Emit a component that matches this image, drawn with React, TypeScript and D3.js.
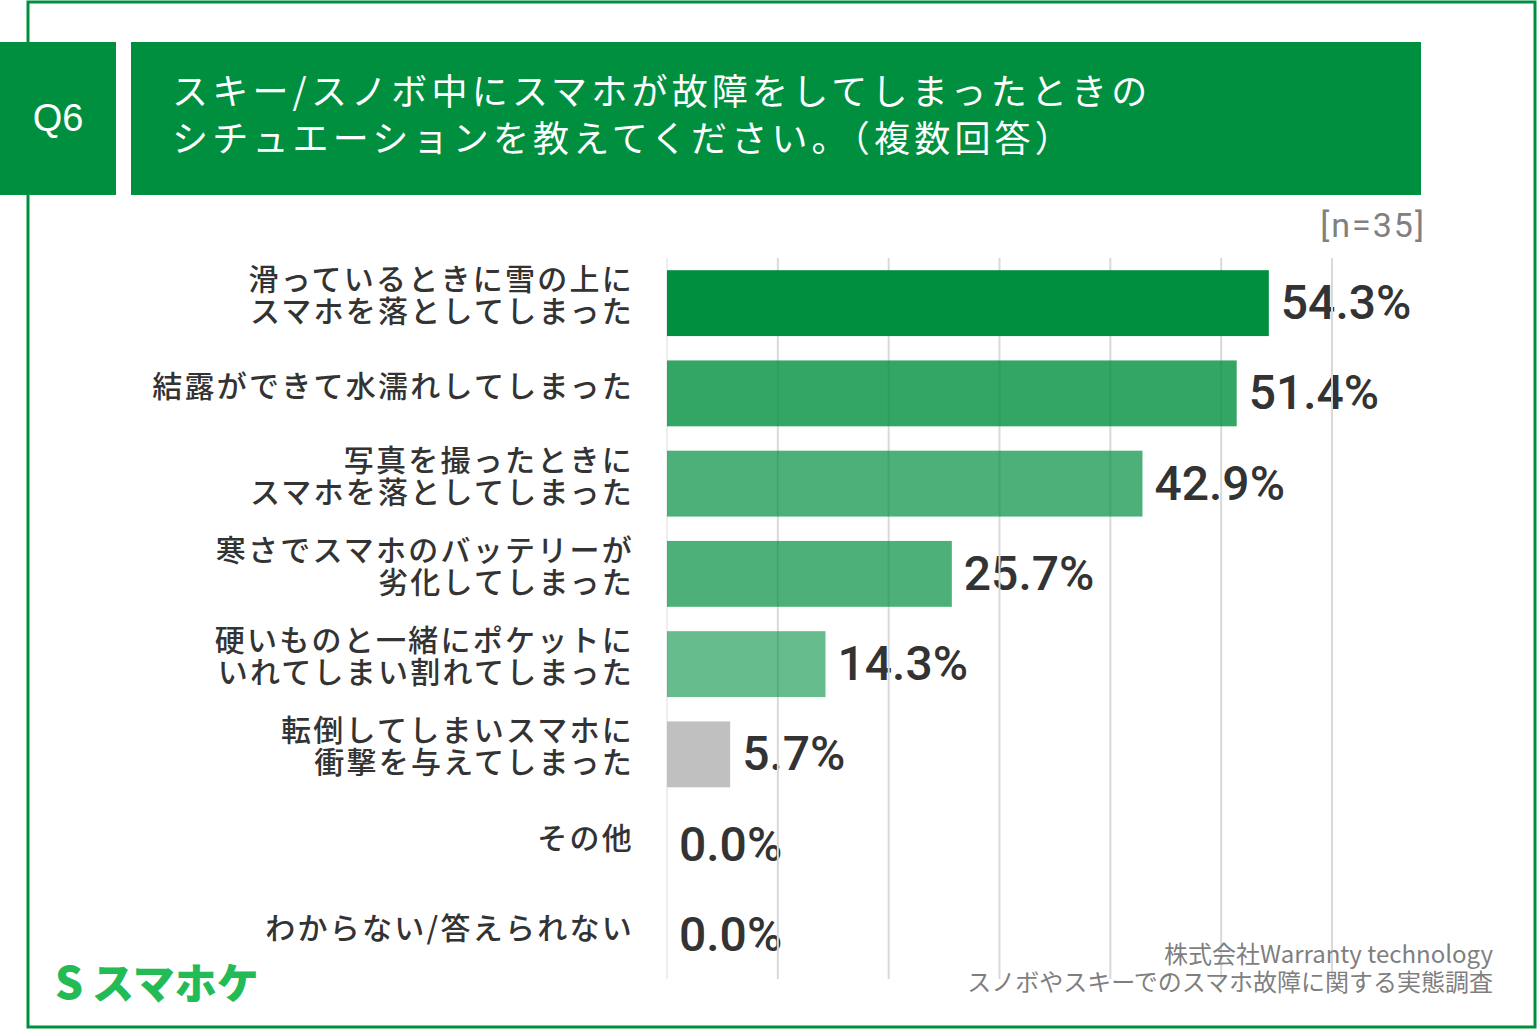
import * as d3 from 'd3';

const categories = [
  ['滑っているときに雪の上に', 'スマホを落としてしまった'],
  ['結露ができて水濡れしてしまった'],
  ['写真を撮ったときに', 'スマホを落としてしまった'],
  ['寒さでスマホのバッテリーが', '劣化してしまった'],
  ['硬いものと一緒にポケットに', 'いれてしまい割れてしまった'],
  ['転倒してしまいスマホに', '衝撃を与えてしまった'],
  ['その他'],
  ['わからない/答えられない'],
];
const values = [54.3, 51.4, 42.9, 25.7, 14.3, 5.7, 0.0, 0.0];
const barOpacity = [1, 0.8, 0.7, 0.7, 0.6, 1, 1, 1];
const gridTicks = [0, 10, 20, 30, 40, 50, 60];
const titleLines = [
  'スキー/スノボ中にスマホが故障をしてしまったときの',
  'シチュエーションを教えてください。（複数回答）',
];
const sourceLines = ['株式会社Warranty technology', 'スノボやスキーでのスマホ故障に関する実態調査'];

const W = 1538;
const H = 1030;
const GREEN = '#008f3f';
const JP = '"Noto Sans CJK JP", "Noto Sans", sans-serif';

export default function App() {
  const x = d3.scaleLinear().domain([0, 60]).range([667, 1332]);
  const keys = categories.map((_, i) => String(i));
  const y = d3.scaleBand().domain(keys).range([258, 980]).paddingInner(0.27).paddingOuter(0.135);

  return (
    <svg width={W} height={H} style={{ position: 'absolute', left: 0, top: 0, background: '#fff' }}>
      {/* outer frame */}
      <rect x={28} y={2} width={1507} height={1025} fill="none" stroke={GREEN} strokeWidth={3} />

      {/* header */}
      <rect x={0} y={42} width={116} height={153} fill={GREEN} />
      <text x={58} y={131} textAnchor="middle" fill="#fff" fontSize={38}
        fontFamily='"Liberation Sans", Arial, sans-serif'>Q6</text>
      <rect x={131} y={42} width={1290} height={153} fill={GREEN} />
      {titleLines.map((t, i) => (
        <text key={t} x={172} y={105 + i * 47} fill="#fff" fontSize={36} letterSpacing={4.2}
          fontFamily={JP} fontWeight={400}>{t}</text>
      ))}

      <text x={1426} y={237} textAnchor="end" fill="#808080" fontSize={34} letterSpacing={2}
        fontFamily='Roboto, "Noto Sans", sans-serif'>[n=35]</text>

      {/* category labels */}
      {categories.map((lines, i) => {
        const c = (y(String(i)) as number) + y.bandwidth() / 2;
        const ys = lines.length === 2 ? [c - 13, c + 19] : [c + 4];
        return lines.map((t, j) => (
          <text key={`${i}-${j}`} x={634} y={ys[j]} textAnchor="end" fill="#333" fontSize={30}
            letterSpacing={2.25} fontFamily={JP} fontWeight={500}>{t}</text>
        ));
      })}

      {/* value labels */}
      {values.map((v, i) => {
        const c = (y(String(i)) as number) + y.bandwidth() / 2;
        return (
          <text key={`v${i}`} x={x(v) + 12} y={c + 16} fill="#333" fontSize={48}
            fontFamily='Roboto, "Noto Sans", sans-serif' fontWeight={500}>{v.toFixed(1)}%</text>
        );
      })}

      {/* grid */}
      {gridTicks.map((t) => (
        <line key={`g${t}`} x1={x(t)} x2={x(t)} y1={258} y2={979}
          stroke={t === 0 ? '#eeeeee' : '#d9d9d9'} strokeWidth={2} />
      ))}

      {/* bars */}
      {values.map((v, i) => (
        <rect key={`b${i}`} x={x(0)} y={y(String(i))} width={x(v) - x(0)} height={y.bandwidth()}
          fill={i === 5 ? '#c0c0c0' : GREEN} fillOpacity={barOpacity[i]} />
      ))}

      {/* logo */}
      <text x={55} y={999} fill="#22bb55" fontSize={44} fontWeight={900} fontFamily={JP}>S</text>
      <text x={92} y={999} fill="#22bb55" fontSize={42} fontWeight={900} fontFamily={JP}>スマホケ</text>

      {/* source */}
      {sourceLines.map((t, i) => (
        <text key={t} x={1493} y={963 + i * 28} textAnchor="end" fill="#7f7f7f" fontSize={24}
          fontFamily={JP}>{t}</text>
      ))}
    </svg>
  );
}
